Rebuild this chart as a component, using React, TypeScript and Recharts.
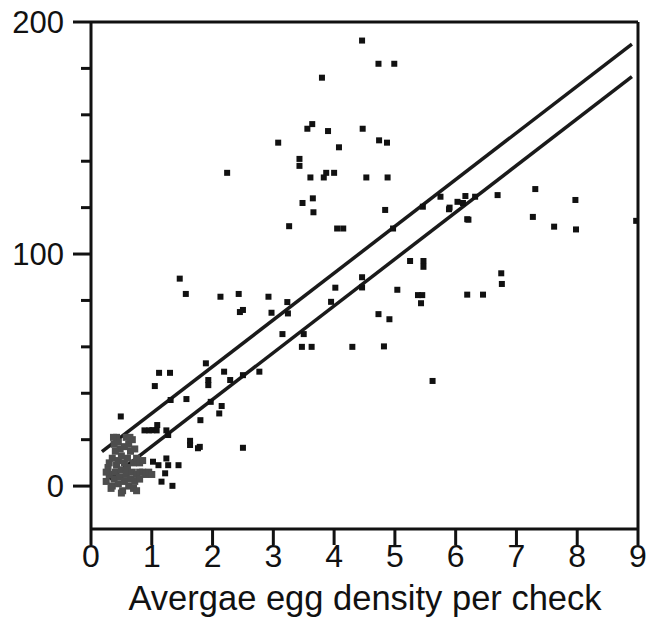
import React from 'react';
import { ComposedChart, XAxis, YAxis, Scatter, Line, ReferenceLine } from 'recharts';

const xTicks = [0, 1, 2, 3, 4, 5, 6, 7, 8, 9];
const yTicks = [0, 20, 40, 60, 80, 100, 120, 140, 160, 180, 200];
const yLabelTicks = [0, 100, 200];

const blackX = [4.46,4.73,4.99,3.80,3.64,3.56,3.90,4.47,3.08,4.08,4.74,4.87,3.43,3.43,3.61,3.83,3.87,4.00,4.53,4.88,3.48,3.65,3.66,4.84,2.24,3.26,4.05,4.15,5.90,6.19,5.25,5.47,5.47,4.46,4.46,4.02,5.04,5.38,5.45,5.43,6.19,6.45,2.92,3.23,3.95,2.97,3.24,4.73,4.91,3.15,3.50,3.47,3.63,4.30,4.82,2.77,5.62,4.97,7.31,7.27,6.69,6.16,6.32,6.03,6.12,5.89,6.21,5.75,5.46,6.75,6.76,7.97,7.62,7.98,8.97,1.46,1.56,2.13,2.43,2.45,2.50,1.12,1.30,1.05,1.89,1.93,1.93,2.19,2.29,2.50,1.57,1.31,2.15,2.11,1.97,1.80,1.09,1.01,1.27,1.63,1.63,1.79,2.50,0.49,1.76,0.88,0.96,1.08,1.24,1.02,1.11,1.24,1.27,1.44,1.22,1.16,1.34];
const blackY = [192,182,182,176,156,154,153,154,148,146,149,148,141,138,133,133,135,135,133,133,122,124,118,119,135,112,111,111,120,115,97,97,94.5,90,85.6,85.5,84.6,82.3,82.3,78.8,82.5,82.5,81.6,79.3,79.4,74.7,74.4,74.1,71.9,65.5,65.5,60,60,60,60.2,49.3,45.3,111,128,116,125.4,125,124.7,122.5,122,119.3,114.8,124.7,120.4,91.7,87.1,123.3,111.8,110.6,114.3,89.4,82.8,81.6,82.8,75,75.9,48.8,48.8,43.1,52.9,45.7,43.5,49.3,45.7,47.8,37.5,37.1,34.5,31.3,36.3,28.4,26.3,24.1,22,19.5,17.7,16.9,16.5,30,16.3,24,24,24,24,10.5,9,11.9,9,9,5.5,1.9,0.1];

const grayX = [0.25,0.3,0.28,0.35,0.38,0.4,0.42,0.45,0.48,0.5,0.52,0.55,0.58,0.6,0.62,0.65,0.68,0.7,0.72,0.3,0.35,0.45,0.5,0.55,0.6,0.65,0.7,0.75,0.48,0.55,0.62,0.68,0.58,0.4,0.75,0.8,0.85,0.9,0.95,1.0,0.8,0.75,0.5,0.33,0.25,0.45,0.38,0.42,0.72,0.8,0.85,0.37,0.64];
const grayY = [2,5,8,0,3,6,9,1,4,7,-2,2,5,8,0,3,6,-1,2,10,12,11,13,10,12,15,10,12,16,17,18,20,21,15,5,6,6,5,6,5,3,-2,-3,-1,6,19,18,21,16,10,11,21,21];

const upperX = [0.18, 8.9];
const upperY = [14.8, 190.5];
const lowerX = [0.3, 8.9];
const lowerY = [3, 176.5];

const blackPts = blackX.map((x, i) => ({ x, y: blackY[i] }));
const grayPts = grayX.map((x, i) => ({ x, y: grayY[i] }));
const upperPts = upperX.map((x, i) => ({ x, y: upperY[i] }));
const lowerPts = lowerX.map((x, i) => ({ x, y: lowerY[i] }));

const FONT = '"Liberation Sans", Arial, sans-serif';

const Sq = (color: string, s: number) => (props: any) => (
  <rect x={props.cx - s / 2} y={props.cy - s / 2} width={s} height={s} fill={color} />
);

const YTick = (props: any) => {
  const { y, payload } = props;
  const v = payload.value;
  const major = yLabelTicks.includes(v);
  const ax = 91;
  return (
    <g>
      <line x1={major ? ax - 18 : ax - 10} x2={ax} y1={y} y2={y} stroke="#111" strokeWidth={3} />
      {major && (
        <text x={ax - 27} y={y + 11} textAnchor="end" fontFamily={FONT} fontSize={31} fill="#111">
          {v}
        </text>
      )}
    </g>
  );
};

const XTick = (props: any) => {
  const { x, payload } = props;
  return (
    <g>
      <line x1={x} x2={x} y1={529} y2={545} stroke="#111" strokeWidth={3} />
      <text x={x} y={567} textAnchor="middle" fontFamily={FONT} fontSize={32} fill="#111">
        {payload.value}
      </text>
    </g>
  );
};

export default function App() {
  return (
    <div style={{ position: 'absolute', left: 0, top: 0, width: 651, height: 622, background: '#fff' }}>
      <ComposedChart width={651} height={622} margin={{ top: 22, right: 13, bottom: 0, left: 0 }}>
        <XAxis
          type="number"
          dataKey="x"
          domain={[0, 9]}
          ticks={xTicks}
          allowDataOverflow
          axisLine={{ stroke: '#111', strokeWidth: 3 }}
          tickLine={false}
          tick={<XTick />}
          height={93}
        />
        <YAxis
          type="number"
          dataKey="y"
          domain={[-18.5, 200]}
          ticks={yTicks}
          allowDataOverflow
          axisLine={{ stroke: '#111', strokeWidth: 3 }}
          tickLine={false}
          tick={<YTick />}
          width={91}
          interval={0}
        />
        <ReferenceLine y={200} stroke="#111" strokeWidth={3} />
        <ReferenceLine x={9} stroke="#111" strokeWidth={3} />
        <Scatter data={grayPts} fill="#555" shape={Sq('#4d4d4d', 7)} isAnimationActive={false} />
        <Scatter data={blackPts} fill="#111" shape={Sq('#111', 6)} isAnimationActive={false} />
        <Line data={upperPts} dataKey="y" stroke="#1a1a1a" strokeWidth={3.5} dot={false} isAnimationActive={false} />
        <Line data={lowerPts} dataKey="y" stroke="#1a1a1a" strokeWidth={3.5} dot={false} isAnimationActive={false} />
      </ComposedChart>
      <div
        style={{
          position: 'absolute',
          left: 0,
          width: 730,
          top: 580,
          textAlign: 'center',
          fontFamily: FONT,
          fontSize: 34.5,
          color: '#111',
          lineHeight: '36px',
        }}
      >
        Avergae egg density per check
      </div>
    </div>
  );
}
